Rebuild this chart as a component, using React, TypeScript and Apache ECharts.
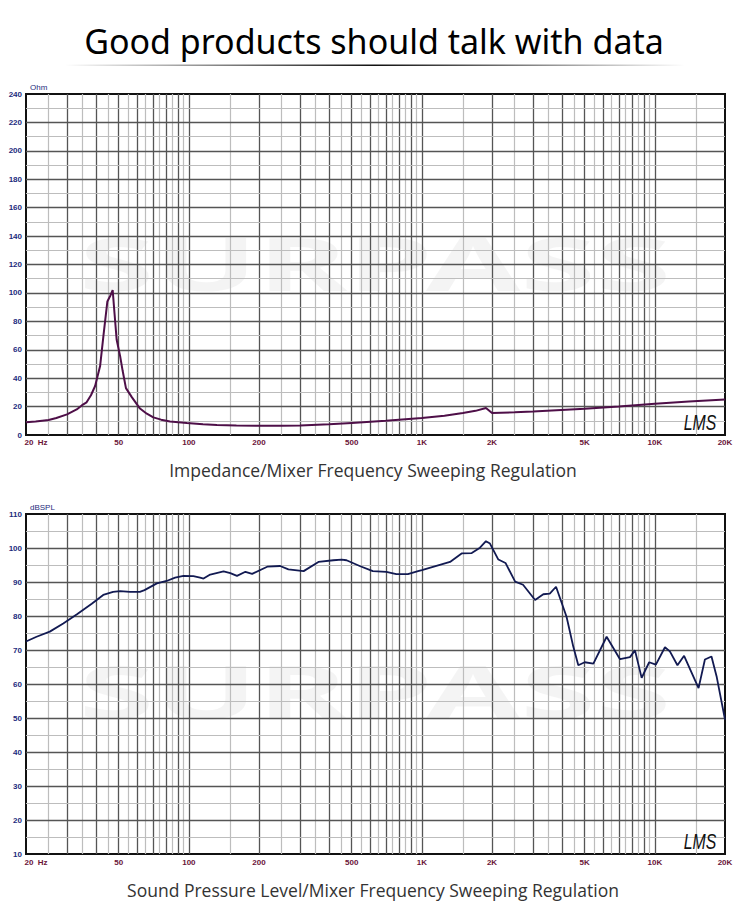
import React, { useEffect, useRef } from "react";
import * as echarts from "echarts";

// ---------- data ----------
const IMP_FREQ = [20, 22, 25, 27, 30, 33, 34.8, 36.4, 38, 39.6, 41.6, 43, 44.7, 46, 47.1, 48, 49, 50.7, 52, 53.7, 57, 61.7, 66, 70.4, 76, 83, 98, 115, 132, 160, 200, 250, 300, 400, 500, 700, 1000, 1250, 1500, 1700, 1884, 2000, 2500, 3000, 5000, 7000, 10000, 14000, 20000];
const IMP_OHM = [9, 9.5, 10.5, 12, 14.5, 18, 21, 23, 28, 34.5, 48.5, 70, 94, 98, 102, 85, 67, 55.5, 45, 33, 26.5, 18.6, 15, 12.4, 10.8, 9.5, 8.4, 7.6, 7.1, 6.7, 6.5, 6.5, 6.7, 7.5, 8.5, 10, 12, 13.5, 15.5, 17, 19, 15.5, 16, 16.5, 18.5, 20, 22, 23.5, 25];

const SPL_FREQ = [20, 22.2, 25.3, 28.9, 33.1, 38.3, 42.9, 47.3, 50.7, 55.9, 61.6, 64.5, 72.9, 80.3, 87.3, 94.8, 104.6, 111.7, 115.6, 123.5, 140.9, 150.6, 160.9, 174.9, 186.9, 216.9, 246.5, 267.5, 310.8, 359.8, 417, 452.5, 475, 541, 616, 704, 777, 871, 963, 1000, 1321, 1481, 1637, 1776, 1884, 1960, 2130, 2285, 2514, 2718, 3062, 3320, 3540, 3766, 4178, 4465, 4693, 5000, 5447, 6209, 7086, 7818, 8217, 8776, 9455, 10100, 11050, 11600, 12500, 13350, 15400, 16400, 17500, 18400, 20000];
const SPL_DB = [72.5, 73.9, 75.4, 77.8, 80.5, 83.6, 86.2, 87.1, 87.3, 87.1, 87.1, 87.6, 89.6, 90.3, 91.3, 91.8, 91.7, 91.3, 91.0, 92.2, 93.1, 92.6, 91.8, 93.0, 92.4, 94.5, 94.7, 93.7, 93.2, 95.9, 96.4, 96.6, 96.4, 94.7, 93.2, 93.0, 92.3, 92.3, 93.2, 93.5, 95.9, 98.4, 98.5, 100.1, 102.0, 101.3, 96.6, 95.6, 90.1, 89.2, 84.7, 86.4, 86.6, 88.6, 79.8, 71.0, 65.5, 66.4, 66.0, 73.9, 67.3, 67.9, 69.9, 61.8, 66.4, 65.7, 70.8, 69.6, 65.5, 68.3, 58.8, 67.2, 68.1, 62.3, 49.5];

// axis tick labels on the frequency axis
const FREQ_LABELS = [20, 50, 100, 200, 500, 1000, 2000, 5000, 10000, 20000];
const FREQ_LABEL_TEXT = ["20\u00a0\u00a0Hz", "50", "100", "200", "500", "1K", "2K", "5K", "10K", "20K"];

// frequency grid: dark lines at 1..9 x decade, light at half steps
const DECADES = [10, 100, 1000, 10000];
const MAJOR_STEPS = [1, 2, 3, 4, 5, 6, 7, 8, 9];
const MINOR_STEPS = [1.5, 2.5, 3.5, 4.5, 5.5, 6.5, 7.5, 8.5, 9.5];

const F_MIN = 20;
const F_MAX = 20000;

const DARK = "#555555";
const LIGHT = "#bdbdbd";
const XLABEL_COLOR = "#6a1438";
const YLABEL_COLOR = "#1d2b7d";

function freqGrid() {
  const out: { f: number; major: boolean }[] = [];
  for (const d of DECADES) {
    for (const s of MAJOR_STEPS) {
      const f = Math.round(s * d * 1000) / 1000;
      if (f > F_MIN && f < F_MAX) out.push({ f, major: true });
    }
    for (const s of MINOR_STEPS) {
      const f = Math.round(s * d * 1000) / 1000;
      if (f > F_MIN && f < F_MAX) out.push({ f, major: false });
    }
  }
  return out;
}

function gridMarkLine(yMin: number, yMax: number, yStep: number, yMajorStep: number, labelDist: number) {
  const data: any[] = [];
  const labelBase = {
    show: true,
    position: "start",
    distance: labelDist,
    color: XLABEL_COLOR,
    fontSize: 8,
    fontWeight: "bold",
    fontFamily: "Liberation Sans",
  };
  for (const { f, major } of freqGrid()) {
    const li = FREQ_LABELS.indexOf(f);
    data.push({
      xAxis: f,
      lineStyle: { color: major ? DARK : LIGHT, width: major ? 1.3 : 1.2, type: "solid" },
      label: li >= 0 ? { ...labelBase, formatter: FREQ_LABEL_TEXT[li] } : { show: false },
    });
  }
  // edges (coincide with the frame) carry the outer labels
  data.push({
    xAxis: F_MIN,
    lineStyle: { color: "#111", width: 2, type: "solid" },
    label: { ...labelBase, formatter: FREQ_LABEL_TEXT[0], padding: [0, 0, 0, 20] },
  });
  data.push({
    xAxis: F_MAX,
    lineStyle: { color: "#111", width: 2, type: "solid" },
    label: { ...labelBase, formatter: FREQ_LABEL_TEXT[FREQ_LABEL_TEXT.length - 1] },
  });
  for (let v = yMin + yStep; v < yMax; v += yStep) {
    const major = (v - yMin) % yMajorStep === 0;
    data.push({
      yAxis: v,
      lineStyle: { color: major ? DARK : LIGHT, width: major ? 1.3 : 1.2, type: "solid" },
      label: { show: false },
    });
  }
  return {
    silent: true,
    symbol: ["none", "none"],
    z: 1,
    animation: false,
    emphasis: { disabled: true },
    label: { show: false },
    data,
  };
}

function yAxisCfg(grid: number, min: number, max: number, interval: number, name: string) {
  return {
    type: "value",
    gridIndex: grid,
    min,
    max,
    interval,
    name,
    nameLocation: "end",
    nameGap: 3,
    nameTextStyle: {
      align: "left",
      color: YLABEL_COLOR,
      fontSize: 8,
      fontFamily: "Liberation Sans",
      padding: [0, 0, 0, 4],
    },
    axisLine: { show: false },
    axisTick: { show: false },
    splitLine: { show: false },
    axisLabel: {
      color: YLABEL_COLOR,
      fontSize: 8,
      fontWeight: "bold",
      fontFamily: "Liberation Sans",
      margin: 4,
      formatter: (v: number) => ((v - min) % (interval * 2) === 0 ? String(v) : ""),
    },
  };
}

function xAxisCfg(grid: number) {
  return {
    type: "log",
    logBase: 10,
    gridIndex: grid,
    min: F_MIN,
    max: F_MAX,
    axisLine: { show: false },
    axisTick: { show: false },
    axisLabel: { show: false },
    splitLine: { show: false },
    minorSplitLine: { show: false },
  };
}

function watermark(y: number) {
  return {
    type: "text",
    x: 375,
    y,
    scaleX: 1.85,
    z: -1,
    silent: true,
    style: {
      text: "SURPASS",
      x: 0,
      y: 0,
      align: "center",
      verticalAlign: "middle",
      fontSize: 74,
      fontWeight: "bold",
      fontFamily: "Noto Sans",
      fill: "rgba(0,0,0,0.045)",
    },
  };
}

function caption(y: number, text: string) {
  return {
    type: "text",
    x: 373,
    y,
    style: {
      text,
      x: 0,
      y: 0,
      align: "center",
      verticalAlign: "middle",
      fontSize: 17.5,
      fontFamily: "Open Sans",
      fill: "#333",
    },
  };
}

function lms(y: number) {
  return {
    type: "text",
    x: 700,
    y,
    scaleX: 0.72,
    z: 10,
    style: {
      text: "LMS",
      x: 0,
      y: 0,
      align: "center",
      verticalAlign: "middle",
      fontSize: 22,
      fontStyle: "italic",
      fontFamily: "Liberation Sans",
      fill: "#111",
    },
  };
}

export default function App() {
  const ref = useRef<HTMLDivElement>(null);
  useEffect(() => {
    document.body.style.margin = "0";
    if (!ref.current) return;
    const chart = echarts.init(ref.current, null, { renderer: "svg" });
    const option: any = {
      animation: false,
      backgroundColor: "#ffffff",
      grid: [
        { left: 26, top: 94, width: 699, height: 341, show: true, borderColor: "#111", borderWidth: 2 },
        { left: 26, top: 514, width: 699, height: 340, show: true, borderColor: "#111", borderWidth: 2 },
      ],
      xAxis: [xAxisCfg(0), xAxisCfg(1)],
      yAxis: [yAxisCfg(0, 0, 240, 10, "Ohm"), yAxisCfg(1, 10, 110, 5, "dBSPL")],
      series: [
        {
          type: "line",
          xAxisIndex: 0,
          yAxisIndex: 0,
          data: [],
          z: 1,
          markLine: gridMarkLine(0, 240, 10, 20, 3.5),
        },
        {
          type: "line",
          name: "Impedance",
          xAxisIndex: 0,
          yAxisIndex: 0,
          z: 4,
          showSymbol: false,
          symbol: "none",
          lineStyle: { color: "#4e0f48", width: 2 },
          data: IMP_FREQ.map((f, i) => [f, IMP_OHM[i]]),
        },
        {
          type: "line",
          xAxisIndex: 1,
          yAxisIndex: 1,
          data: [],
          z: 1,
          markLine: gridMarkLine(10, 110, 5, 10, 4),
        },
        {
          type: "line",
          name: "SPL",
          xAxisIndex: 1,
          yAxisIndex: 1,
          z: 4,
          showSymbol: false,
          symbol: "none",
          lineStyle: { color: "#121a52", width: 1.8 },
          data: SPL_FREQ.map((f, i) => [f, SPL_DB[i]]),
        },
      ],
      graphic: [
        watermark(262),
        watermark(690),
        {
          type: "text",
          x: 374,
          y: 41,
          scaleX: 1.0,
          style: {
            text: "Good products should talk with data",
            x: 0,
            y: 0,
            align: "center",
            verticalAlign: "middle",
            fontSize: 34,
            fontFamily: "Noto Sans",
            fill: "#000",
          },
        },
        {
          type: "rect",
          shape: { x: 65, y: 64.5, width: 620, height: 1.5 },
          style: {
            fill: {
              type: "linear",
              x: 0,
              y: 0,
              x2: 1,
              y2: 0,
              colorStops: [
                { offset: 0, color: "rgba(0,0,0,0)" },
                { offset: 0.5, color: "#111" },
                { offset: 1, color: "rgba(0,0,0,0)" },
              ],
            },
          },
        },
        caption(470, "Impedance/Mixer Frequency Sweeping Regulation"),
        caption(890, "Sound Pressure Level/Mixer Frequency Sweeping Regulation"),
        lms(423),
        lms(842),
      ],
    };
    chart.setOption(option);
    return () => chart.dispose();
  }, []);
  return <div ref={ref} style={{ width: 750, height: 921 }} />;
}
